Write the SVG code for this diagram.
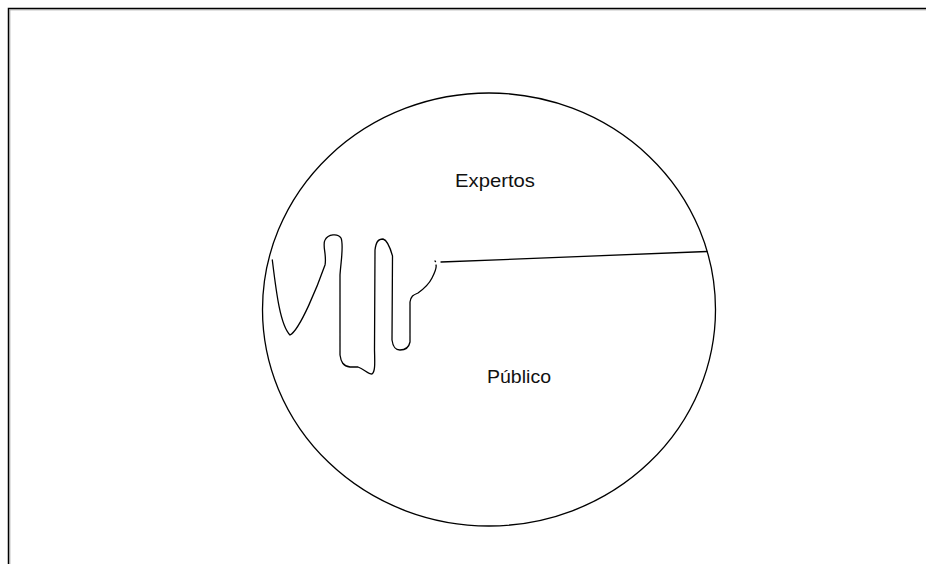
<svg xmlns="http://www.w3.org/2000/svg" width="926" height="564" viewBox="0 0 926 564">
<style>
.ln{fill:none;stroke:#000;stroke-width:1.3;stroke-linecap:round;stroke-linejoin:round}
.t{font-family:"Liberation Sans",Arial,sans-serif;font-size:19px;fill:#111}
</style>
<rect width="926" height="564" fill="#fff"/>
<g id="frame">
<path d="M8.5 564 V8.5 H926" fill="none" stroke="#000" stroke-width="1.5"/>
<path d="M9.8 564 V9.8 H926" fill="none" stroke="#999" stroke-width="1"/>
</g>
<g id="circle">
<ellipse cx="489" cy="309.5" rx="226.5" ry="216.5" class="ln"/>
</g>
<g id="connectors">
<path class="ln" d="M272.3 260 C276 290 280 325 290 335 C300 330 318 285 325 265 C327 255 322 245 325 240 C328 234 338 233 341 238 C344 245 341 260 340 275 L340 355 C341 362 343 366 350 367 L358 367 C364 369 368 374 372 374 C375 372 375 365 374.5 350 L375 250 C376 242 378 239 383 239 C387 240 390 247 392.5 256 L392 340 C393 347 395 350 400 350 C405 350 409 347 410 342 L410 302 C411 296 413 295 418 293 C425 288 430 282 432 278 C435 272 437 268 436 265"/>
<path class="ln" d="M435 261 L435.5 261.5"/>
<path class="ln" d="M441 262 L707 251.5"/>
</g>
<g id="expertos"><text class="t" x="455" y="187" textLength="80" lengthAdjust="spacingAndGlyphs">Expertos</text></g>
<g id="publico"><text class="t" x="487" y="383" textLength="64" lengthAdjust="spacingAndGlyphs">Público</text></g>
</svg>
